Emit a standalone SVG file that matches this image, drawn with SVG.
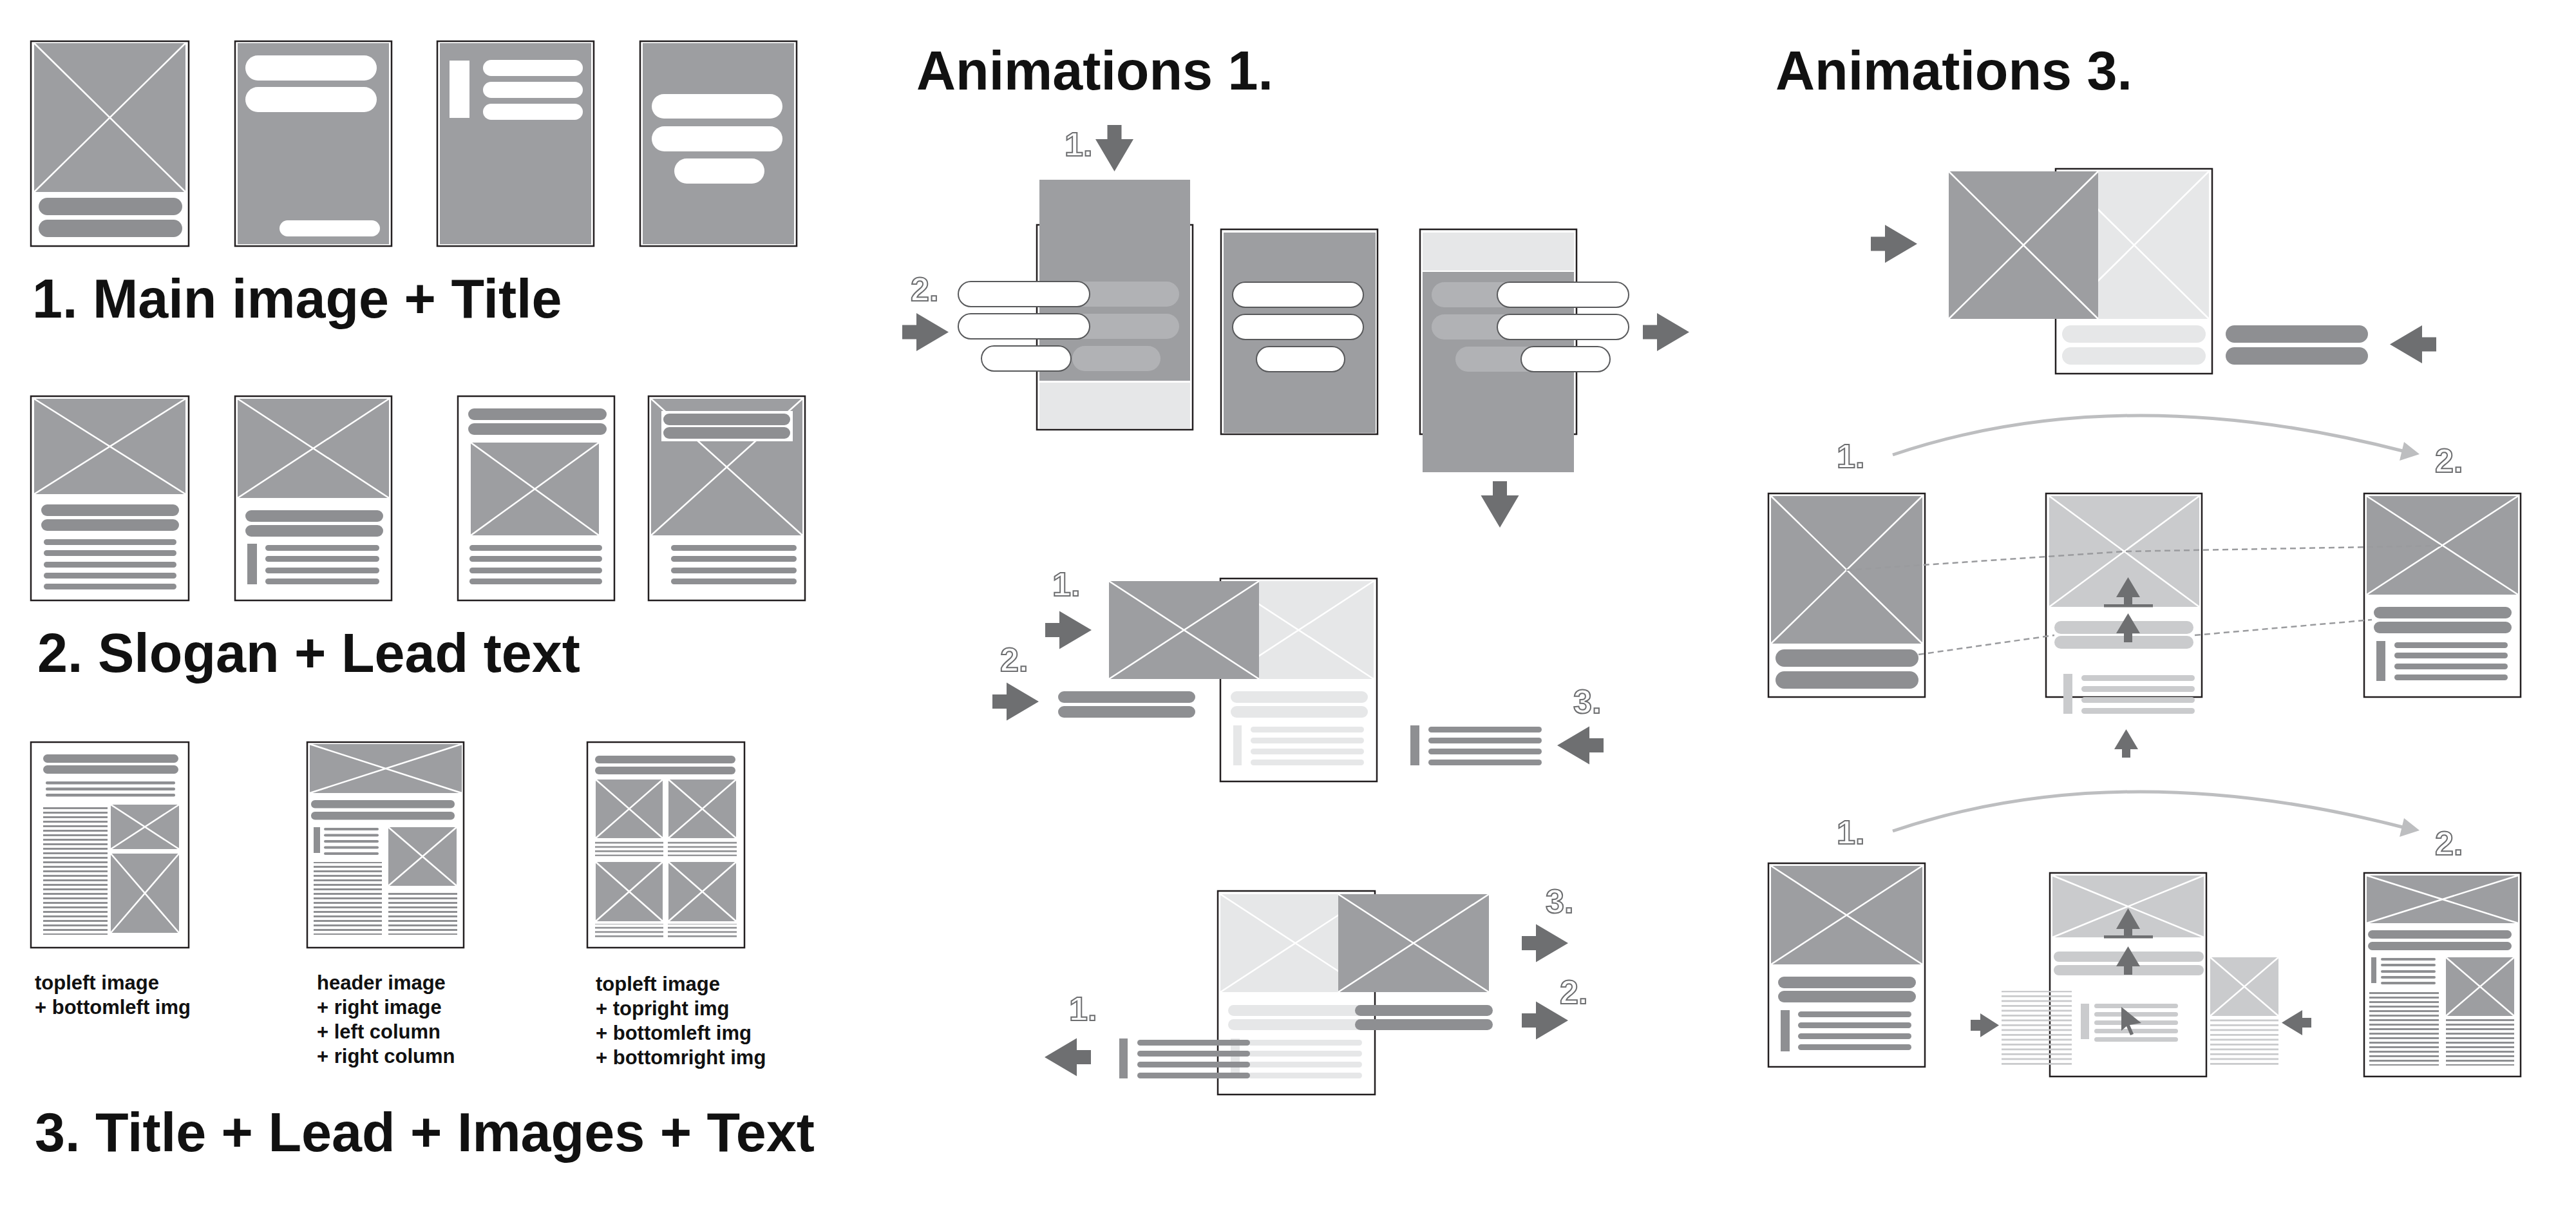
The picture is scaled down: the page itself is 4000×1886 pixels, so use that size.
<svg xmlns="http://www.w3.org/2000/svg" width="4000" height="1886" viewBox="0 0 4000 1886">
<style>
.fr{fill:#fff;stroke:#231f20;stroke-width:2.5}
.im{fill:#9d9ea1}
.iml{fill:#e6e7e8}
.imm{fill:#cacbcd}
.xx{stroke:#fff;stroke-width:2.5;fill:none}
.pd{fill:#8e8f92}
.pw{fill:#fff}
.po{fill:#fff;stroke:#58595b;stroke-width:2}
.pg{fill:#b1b2b5}
.pl{fill:#e6e7e8}
.pm{fill:#cacbcd}
.ar{fill:#6e6f71}
.ttl{font-family:"Liberation Sans",Arial,sans-serif;font-weight:700;font-size:84.5px;fill:#111}
.cap{font-family:"Liberation Sans",Arial,sans-serif;font-weight:700;font-size:31px;fill:#111}
.num{font-family:"Liberation Sans",Arial,sans-serif;font-weight:700;font-size:52px;fill:#fff;stroke:#6d6e70;stroke-width:2}
.cv{fill:none;stroke:#bdbec0;stroke-width:5}
.cvh{fill:#bdbec0}
.dsh{fill:none;stroke:#9a9b9e;stroke-width:2.5;stroke-dasharray:9 6}
</style>
<defs>
<pattern id="t7" width="8" height="7" patternUnits="userSpaceOnUse"><rect width="8" height="3" fill="#8e8f92"/></pattern>
<pattern id="t6" width="8" height="6.6" patternUnits="userSpaceOnUse"><rect width="8" height="2.6" fill="#8e8f92"/></pattern>
<pattern id="t7g" width="8" height="7.5" patternUnits="userSpaceOnUse"><rect width="8" height="2.8" fill="#cacbcd"/></pattern>
</defs>
<rect width="4000" height="1886" fill="#fff"/>

<!-- Section 1 -->
<g id="s1-box1">
<rect class="fr" x="48" y="64" width="245" height="318"/>
<rect class="im" x="53" y="67" width="235" height="231"/>
<path class="xx" d="M53 67L288 298M288 67L53 298"/>
<rect class="pd" x="60" y="307" width="223" height="27" rx="13.5"/>
<rect class="pd" x="60" y="341" width="223" height="27" rx="13.5"/>
</g>
<g id="s1-box2">
<rect class="fr" x="365" y="64" width="243" height="318"/>
<rect class="im" x="369" y="67" width="235" height="312"/>
<rect class="pw" x="381" y="86" width="204" height="39" rx="19.5"/>
<rect class="pw" x="381" y="135" width="204" height="39" rx="19.5"/>
<rect class="pw" x="434" y="342" width="156" height="25" rx="12.5"/>
</g>
<g id="s1-box3">
<rect class="fr" x="679" y="64" width="243" height="318"/>
<rect class="im" x="683" y="67" width="235" height="312"/>
<rect class="pw" x="698" y="94" width="31" height="89"/>
<rect class="pw" x="750" y="93" width="155" height="25" rx="12.5"/>
<rect class="pw" x="750" y="127" width="155" height="25" rx="12.5"/>
<rect class="pw" x="750" y="161" width="155" height="25" rx="12.5"/>
</g>
<g id="s1-box4">
<rect class="fr" x="994" y="64" width="243" height="318"/>
<rect class="im" x="998" y="67" width="235" height="312"/>
<rect class="pw" x="1012" y="146" width="203" height="38" rx="19"/>
<rect class="pw" x="1012" y="196" width="203" height="39" rx="19.5"/>
<rect class="pw" x="1047" y="246" width="140" height="39" rx="19.5"/>
</g>
<text id="title1" class="ttl" x="50" y="493">1. Main image + Title</text>

<!-- Section 2 -->
<g id="s2-box1">
<rect class="fr" x="48" y="615" width="245" height="317"/>
<rect class="im" x="53" y="619" width="235" height="148"/>
<path class="xx" d="M53 619L288 767M288 619L53 767"/>
<rect class="pd" x="64" y="783" width="214" height="18" rx="9"/>
<rect class="pd" x="64" y="806" width="214" height="18" rx="9"/>
<rect class="pd" x="68" y="837" width="206" height="9" rx="4.5"/>
<rect class="pd" x="68" y="854" width="206" height="9" rx="4.5"/>
<rect class="pd" x="68" y="872" width="206" height="9" rx="4.5"/>
<rect class="pd" x="68" y="889" width="206" height="9" rx="4.5"/>
<rect class="pd" x="68" y="906" width="206" height="9" rx="4.5"/>
</g>
<g id="s2-box2">
<rect class="fr" x="365" y="615" width="243" height="317"/>
<rect class="im" x="369" y="619" width="235" height="154"/>
<path class="xx" d="M369 619L604 773M604 619L369 773"/>
<rect class="pd" x="381" y="792" width="214" height="18" rx="9"/>
<rect class="pd" x="381" y="815" width="214" height="18" rx="9"/>
<rect class="pd" x="384" y="844" width="15" height="63"/>
<rect class="pd" x="412" y="846" width="177" height="9" rx="4.5"/>
<rect class="pd" x="412" y="863" width="177" height="9" rx="4.5"/>
<rect class="pd" x="412" y="881" width="177" height="9" rx="4.5"/>
<rect class="pd" x="412" y="898" width="177" height="9" rx="4.5"/>
</g>
<g id="s2-box3">
<rect class="fr" x="711" y="615" width="243" height="317"/>
<rect class="pd" x="727" y="634" width="215" height="18" rx="9"/>
<rect class="pd" x="727" y="657" width="215" height="18" rx="9"/>
<rect class="im" x="731" y="687" width="199" height="144"/>
<path class="xx" d="M731 687L930 831M930 687L731 831"/>
<rect class="pd" x="729" y="846" width="206" height="9" rx="4.5"/>
<rect class="pd" x="729" y="863" width="206" height="9" rx="4.5"/>
<rect class="pd" x="729" y="881" width="206" height="9" rx="4.5"/>
<rect class="pd" x="729" y="898" width="206" height="9" rx="4.5"/>
</g>
<g id="s2-box4">
<rect class="fr" x="1007" y="615" width="243" height="317"/>
<rect class="im" x="1011" y="619" width="235" height="212"/>
<path class="xx" d="M1011 619L1246 831M1246 619L1011 831"/>
<rect fill="#fff" x="1027" y="638" width="204" height="47"/>
<rect class="pd" x="1030" y="642" width="197" height="18" rx="9"/>
<rect class="pd" x="1030" y="663" width="197" height="18" rx="9"/>
<rect class="pd" x="1042" y="846" width="195" height="9" rx="4.5"/>
<rect class="pd" x="1042" y="863" width="195" height="9" rx="4.5"/>
<rect class="pd" x="1042" y="881" width="195" height="9" rx="4.5"/>
<rect class="pd" x="1042" y="898" width="195" height="9" rx="4.5"/>
</g>
<text id="title2" class="ttl" x="58" y="1043">2. Slogan + Lead text</text>

<!-- Section 3 -->
<g id="s3-box1">
<rect class="fr" x="48" y="1152" width="245" height="319"/>
<rect class="pd" x="67" y="1171" width="210" height="13" rx="6.5"/>
<rect class="pd" x="67" y="1188" width="210" height="13" rx="6.5"/>
<rect class="pd" x="71" y="1213" width="201" height="4.5" rx="2"/>
<rect class="pd" x="71" y="1222.5" width="201" height="4.5" rx="2"/>
<rect class="pd" x="71" y="1232" width="201" height="4.5" rx="2"/>
<rect fill="url(#t7)" x="67" y="1249" width="100" height="202"/>
<rect class="im" x="172" y="1249" width="106" height="69"/>
<path class="xx" d="M172 1249L278 1318M278 1249L172 1318"/>
<rect class="im" x="172" y="1325" width="106" height="123"/>
<path class="xx" d="M172 1325L278 1448M278 1325L172 1448"/>
</g>
<g id="s3-box2">
<rect class="fr" x="477" y="1152" width="243" height="319"/>
<rect class="im" x="481" y="1155" width="236" height="76"/>
<path class="xx" d="M481 1155L717 1231M717 1155L481 1231"/>
<rect class="pd" x="483" y="1242" width="223" height="12.5" rx="6"/>
<rect class="pd" x="483" y="1260" width="223" height="12.5" rx="6"/>
<rect class="pd" x="487" y="1284" width="10" height="40"/>
<rect class="pd" x="503" y="1285" width="85" height="4" rx="2"/>
<rect class="pd" x="503" y="1294.5" width="85" height="4" rx="2"/>
<rect class="pd" x="503" y="1304" width="85" height="4" rx="2"/>
<rect class="pd" x="503" y="1313.5" width="85" height="4" rx="2"/>
<rect class="pd" x="503" y="1323" width="85" height="4" rx="2"/>
<rect class="im" x="603" y="1284" width="106" height="91"/>
<path class="xx" d="M603 1284L709 1375M709 1284L603 1375"/>
<rect fill="url(#t7)" x="487" y="1338" width="106" height="113"/>
<rect fill="url(#t7)" x="603" y="1382" width="107" height="69"/>
</g>
<g id="s3-box3">
<rect class="fr" x="912" y="1152" width="244" height="319"/>
<rect class="pd" x="924" y="1173" width="218" height="12" rx="6"/>
<rect class="pd" x="924" y="1190" width="218" height="12" rx="6"/>
<rect class="im" x="925" y="1210" width="104" height="91"/>
<path class="xx" d="M925 1210L1029 1301M1029 1210L925 1301"/>
<rect class="im" x="1038" y="1210" width="105" height="91"/>
<path class="xx" d="M1038 1210L1143 1301M1143 1210L1038 1301"/>
<rect fill="url(#t6)" x="924" y="1305" width="106" height="24"/>
<rect fill="url(#t6)" x="1037" y="1305" width="107" height="24"/>
<rect class="im" x="925" y="1338" width="104" height="92"/>
<path class="xx" d="M925 1338L1029 1430M1029 1338L925 1430"/>
<rect class="im" x="1038" y="1338" width="105" height="92"/>
<path class="xx" d="M1038 1338L1143 1430M1143 1338L1038 1430"/>
<rect fill="url(#t6)" x="924" y="1434" width="106" height="24"/>
<rect fill="url(#t6)" x="1037" y="1434" width="107" height="24"/>
</g>
<g id="s3-captions">
<text class="cap" x="54" y="1536">topleft image</text>
<text class="cap" x="54" y="1574">+ bottomleft img</text>
<text class="cap" x="492" y="1536">header image</text>
<text class="cap" x="492" y="1574">+ right image</text>
<text class="cap" x="492" y="1612">+ left column</text>
<text class="cap" x="492" y="1650">+ right column</text>
<text class="cap" x="925" y="1538">topleft image</text>
<text class="cap" x="925" y="1576">+ topright img</text>
<text class="cap" x="925" y="1614">+ bottomleft img</text>
<text class="cap" x="925" y="1652">+ bottomright img</text>
</g>
<text id="title3" class="ttl" x="54" y="1787">3. Title + Lead + Images + Text</text>

<!-- Animations 1 -->
<text id="anim1-title" class="ttl" x="1423" y="139">Animations 1.</text>
<g id="a1-panelA">
<rect class="fr" x="1610" y="349" width="242" height="318"/>
<rect class="im" x="1614" y="279" width="234" height="312"/>
<rect class="iml" x="1614" y="594" width="234" height="71"/>
<rect class="pg" x="1628" y="437" width="203" height="39" rx="19.5"/>
<rect class="pg" x="1628" y="487" width="203" height="39" rx="19.5"/>
<rect class="pg" x="1665" y="537" width="137" height="39" rx="19.5"/>
<rect class="po" x="1488" y="437" width="204" height="39" rx="19.5"/>
<rect class="po" x="1488" y="487" width="204" height="39" rx="19.5"/>
<rect class="po" x="1524" y="537" width="139" height="39" rx="19.5"/>
</g>
<g id="a1-panelB">
<rect class="fr" x="1896" y="356" width="243" height="318"/>
<rect class="im" x="1900" y="361" width="236" height="311"/>
<rect class="po" x="1914" y="438" width="203" height="39" rx="19.5"/>
<rect class="po" x="1914" y="488" width="203" height="39" rx="19.5"/>
<rect class="po" x="1951" y="538" width="137" height="39" rx="19.5"/>
</g>
<g id="a1-panelC">
<rect class="fr" x="2205" y="356" width="243" height="318"/>
<rect class="iml" x="2209" y="361" width="235" height="59"/>
<rect class="im" x="2209" y="422" width="235" height="311"/>
<rect class="pg" x="2223" y="438" width="203" height="39" rx="19.5"/>
<rect class="pg" x="2223" y="488" width="203" height="39" rx="19.5"/>
<rect class="pg" x="2260" y="538" width="137" height="39" rx="19.5"/>
<rect class="po" x="2325" y="438" width="204" height="39" rx="19.5"/>
<rect class="po" x="2325" y="488" width="204" height="39" rx="19.5"/>
<rect class="po" x="2362" y="538" width="138" height="39" rx="19.5"/>
</g>
<g id="a1-mid">
<rect class="fr" x="1895" y="898" width="243" height="315"/>
<rect class="iml" x="1900" y="902" width="233" height="152"/>
<path class="xx" d="M1900 902L2133 1054M2133 902L1900 1054"/>
<rect class="im" x="1722" y="902" width="233" height="152"/>
<path class="xx" d="M1722 902L1955 1054M1955 902L1722 1054"/>
<rect class="pd" x="1643" y="1073" width="213" height="18" rx="9"/>
<rect class="pd" x="1643" y="1096" width="213" height="18" rx="9"/>
<rect class="pl" x="1911" y="1073" width="213" height="18" rx="9"/>
<rect class="pl" x="1911" y="1096" width="213" height="18" rx="9"/>
<rect class="pl" x="1915" y="1126" width="13" height="62"/>
<rect class="pl" x="1942" y="1128" width="176" height="9" rx="4.5"/>
<rect class="pl" x="1942" y="1145" width="176" height="9" rx="4.5"/>
<rect class="pl" x="1942" y="1162" width="176" height="9" rx="4.5"/>
<rect class="pl" x="1942" y="1179" width="176" height="9" rx="4.5"/>
<rect class="pd" x="2190" y="1126" width="14" height="62"/>
<rect class="pd" x="2218" y="1128" width="176" height="9" rx="4.5"/>
<rect class="pd" x="2218" y="1145" width="176" height="9" rx="4.5"/>
<rect class="pd" x="2218" y="1162" width="176" height="9" rx="4.5"/>
<rect class="pd" x="2218" y="1179" width="176" height="9" rx="4.5"/>
</g>
<g id="a1-bottom">
<rect class="fr" x="1891" y="1383" width="244" height="316"/>
<rect class="iml" x="1895" y="1388" width="233" height="152"/>
<path class="xx" d="M1895 1388L2128 1540M2128 1388L1895 1540"/>
<rect class="im" x="2078" y="1388" width="234" height="152"/>
<path class="xx" d="M2078 1388L2312 1540M2312 1388L2078 1540"/>
<rect class="pl" x="1907" y="1560" width="213" height="17" rx="8.5"/>
<rect class="pl" x="1907" y="1582" width="213" height="17" rx="8.5"/>
<rect class="pd" x="2104" y="1560" width="214" height="17" rx="8.5"/>
<rect class="pd" x="2104" y="1582" width="214" height="17" rx="8.5"/>
<rect class="pl" x="1911" y="1612" width="14" height="61"/>
<rect class="pl" x="1938" y="1614" width="177" height="9" rx="4.5"/>
<rect class="pl" x="1938" y="1631" width="177" height="9" rx="4.5"/>
<rect class="pl" x="1938" y="1648" width="177" height="9" rx="4.5"/>
<rect class="pl" x="1938" y="1665" width="177" height="9" rx="4.5"/>
<rect class="pd" x="1738" y="1612" width="13" height="62"/>
<rect class="pd" x="1766" y="1614" width="175" height="9" rx="4.5"/>
<rect class="pd" x="1766" y="1631" width="175" height="9" rx="4.5"/>
<rect class="pd" x="1766" y="1648" width="175" height="9" rx="4.5"/>
<rect class="pd" x="1766" y="1665" width="175" height="9" rx="4.5"/>
</g>

<!-- Animations 3 -->
<text id="anim3-title" class="ttl" x="2757" y="139">Animations 3.</text>
<g id="a3-top">
<rect class="fr" x="3192" y="262" width="243" height="318"/>
<rect class="iml" x="3198" y="266" width="232" height="229"/>
<path class="xx" d="M3198 266L3430 495M3430 266L3198 495"/>
<rect class="im" x="3026" y="266" width="232" height="229"/>
<path class="xx" d="M3026 266L3258 495M3258 266L3026 495"/>
<rect class="pl" x="3202" y="505" width="223" height="27" rx="13.5"/>
<rect class="pl" x="3202" y="539" width="223" height="27" rx="13.5"/>
<rect class="pd" x="3456" y="505" width="221" height="27" rx="13.5"/>
<rect class="pd" x="3456" y="539" width="221" height="27" rx="13.5"/>
</g>
<g id="a3-mid-left">
<rect class="fr" x="2746" y="766" width="243" height="316"/>
<rect class="im" x="2750" y="770" width="235" height="229"/>
<path class="xx" d="M2750 770L2985 999M2985 770L2750 999"/>
<rect class="pd" x="2757" y="1008" width="222" height="27" rx="13.5"/>
<rect class="pd" x="2757" y="1042" width="222" height="27" rx="13.5"/>
</g>
<g id="a3-mid-center">
<rect class="fr" x="3177" y="766" width="242" height="316"/>
<rect class="imm" x="3182" y="770" width="233" height="172"/>
<path class="xx" d="M3182 770L3415 942M3415 770L3182 942"/>
<rect class="pm" x="3190" y="964" width="216" height="20" rx="10"/>
<rect class="pm" x="3190" y="987" width="216" height="20" rx="10"/>
<rect class="pm" x="3204" y="1046" width="14" height="62"/>
<rect class="pm" x="3232" y="1048" width="176" height="9" rx="4.5"/>
<rect class="pm" x="3232" y="1065" width="176" height="9" rx="4.5"/>
<rect class="pm" x="3232" y="1082" width="176" height="9" rx="4.5"/>
<rect class="pm" x="3232" y="1099" width="176" height="9" rx="4.5"/>
<polygon class="ar" points="3304.5,896 3323,927 3311,927 3311,938 3343,938 3343,942.5 3267,942.5 3267,938 3298,938 3298,927 3286,927"/>
<polygon class="ar" points="3304.5,952 3323,983 3311,983 3311,997 3298,997 3298,983 3286,983"/>
</g>
<g id="a3-mid-right">
<rect class="fr" x="3671" y="766" width="243" height="316"/>
<rect class="im" x="3675" y="770" width="235" height="153"/>
<path class="xx" d="M3675 770L3910 923M3910 770L3675 923"/>
<rect class="pd" x="3686" y="942" width="214" height="18" rx="9"/>
<rect class="pd" x="3686" y="965" width="214" height="18" rx="9"/>
<rect class="pd" x="3690" y="995" width="14" height="62"/>
<rect class="pd" x="3718" y="997" width="176" height="9" rx="4.5"/>
<rect class="pd" x="3718" y="1013" width="176" height="9" rx="4.5"/>
<rect class="pd" x="3718" y="1030" width="176" height="9" rx="4.5"/>
<rect class="pd" x="3718" y="1047" width="176" height="9" rx="4.5"/>
</g>
<g id="a3-bot-left">
<rect class="fr" x="2746" y="1340" width="243" height="316"/>
<rect class="im" x="2750" y="1344" width="235" height="153"/>
<path class="xx" d="M2750 1344L2985 1497M2985 1344L2750 1497"/>
<rect class="pd" x="2761" y="1516" width="214" height="18" rx="9"/>
<rect class="pd" x="2761" y="1538" width="214" height="18" rx="9"/>
<rect class="pd" x="2765" y="1568" width="14" height="64"/>
<rect class="pd" x="2792" y="1570" width="176" height="9" rx="4.5"/>
<rect class="pd" x="2792" y="1587" width="176" height="9" rx="4.5"/>
<rect class="pd" x="2792" y="1604" width="176" height="9" rx="4.5"/>
<rect class="pd" x="2792" y="1621" width="176" height="9" rx="4.5"/>
</g>
<g id="a3-bot-center">
<rect class="fr" x="3183" y="1355" width="243" height="316"/>
<rect class="imm" x="3187" y="1359" width="235" height="96"/>
<path class="xx" d="M3187 1359L3422 1455M3422 1359L3187 1455"/>
<rect class="pm" x="3189" y="1477" width="233" height="16" rx="8"/>
<rect class="pm" x="3189" y="1498" width="233" height="16" rx="8"/>
<rect class="pm" x="3231" y="1558" width="13" height="55"/>
<rect class="pm" x="3252" y="1558" width="130" height="7" rx="3.5"/>
<rect class="pm" x="3252" y="1571" width="130" height="7" rx="3.5"/>
<rect class="pm" x="3252" y="1584" width="130" height="7" rx="3.5"/>
<rect class="pm" x="3252" y="1597" width="130" height="7" rx="3.5"/>
<rect class="pm" x="3252" y="1610" width="130" height="7" rx="3.5"/>
<rect fill="url(#t7g)" x="3108" y="1538" width="109" height="116"/>
<rect class="imm" x="3432" y="1486" width="106" height="91"/>
<path class="xx" d="M3432 1486L3538 1577M3538 1486L3432 1577"/>
<rect fill="url(#t7g)" x="3432" y="1582" width="106" height="72"/>
<polygon class="ar" points="3304.5,1410 3323,1442 3311,1442 3311,1452 3343,1452 3343,1456.5 3267,1456.5 3267,1452 3298,1452 3298,1442 3286,1442"/>
<polygon class="ar" points="3304.5,1469 3323,1500 3311,1500 3311,1513 3298,1513 3298,1500 3286,1500"/>
<polygon class="ar" points="3294,1563 3325,1588 3307,1591 3313,1605 3308,1607 3302,1593 3294,1600"/>
</g>
<g id="a3-bot-right">
<rect class="fr" x="3671" y="1355" width="243" height="316"/>
<rect class="im" x="3675" y="1359" width="235" height="74"/>
<path class="xx" d="M3675 1359L3910 1433M3910 1359L3675 1433"/>
<rect class="pd" x="3677" y="1444" width="223" height="13" rx="6.5"/>
<rect class="pd" x="3677" y="1462" width="223" height="13" rx="6.5"/>
<rect class="pd" x="3682" y="1486" width="8" height="40"/>
<rect class="pd" x="3697" y="1487" width="85" height="4" rx="2"/>
<rect class="pd" x="3697" y="1496" width="85" height="4" rx="2"/>
<rect class="pd" x="3697" y="1506" width="85" height="4" rx="2"/>
<rect class="pd" x="3697" y="1515" width="85" height="4" rx="2"/>
<rect class="pd" x="3697" y="1524" width="85" height="4" rx="2"/>
<rect class="im" x="3798" y="1486" width="106" height="91"/>
<path class="xx" d="M3798 1486L3904 1577M3904 1486L3798 1577"/>
<rect fill="url(#t7)" x="3679" y="1538" width="108" height="116"/>
<rect fill="url(#t7)" x="3798" y="1582" width="106" height="72"/>
</g>

<!-- Connectors -->
<g id="connectors">
<polygon class="ar" points="1719.5,194 1741.5,194 1741.5,216 1760,216 1730.5,266 1701,216 1719.5,216"/>
<polygon class="ar" points="1401,504.5 1423,504.5 1423,486 1473,515.5 1423,545 1423,526.5 1401,526.5"/>
<polygon class="ar" points="2551,504.5 2573,504.5 2573,486 2623,515.5 2573,545 2573,526.5 2551,526.5"/>
<polygon class="ar" points="2318,747 2340,747 2340,769 2358.5,769 2329,819 2299.5,769 2318,769"/>
<polygon class="ar" points="1623,967 1645,967 1645,948.5 1695,978 1645,1007.5 1645,989 1623,989"/>
<polygon class="ar" points="1541,1078 1563,1078 1563,1059.5 1613,1089 1563,1118.5 1563,1100 1541,1100"/>
<polygon class="ar" points="2418,1157 2468,1127.5 2468,1146 2490,1146 2490,1168 2468,1168 2468,1186.5"/>
<polygon class="ar" points="2363,1453 2385,1453 2385,1434.5 2435,1464 2385,1493.5 2385,1475 2363,1475"/>
<polygon class="ar" points="2363,1573 2385,1573 2385,1554.5 2435,1584 2385,1613.5 2385,1595 2363,1595"/>
<polygon class="ar" points="1622,1641 1672,1611.5 1672,1630 1694,1630 1694,1652 1672,1652 1672,1670.5"/>
<polygon class="ar" points="2905,367.5 2927,367.5 2927,349 2977,378.5 2927,408 2927,389.5 2905,389.5"/>
<polygon class="ar" points="3711,534.5 3761,505 3761,523.5 3783,523.5 3783,545.5 3761,545.5 3761,564"/>
<polygon class="ar" points="3301.5,1132 3320,1163 3308,1163 3308,1176 3295,1176 3295,1163 3283,1163"/>
<polygon class="ar" points="3060,1583 3075,1583 3075,1573 3104,1591.5 3075,1610 3075,1600 3060,1600"/>
<polygon class="ar" points="3543,1587.5 3575,1568 3575,1580 3589,1580 3589,1595 3575,1595 3575,1607"/>
<path class="cv" d="M2939 706Q3292 587 3731 700"/>
<polygon class="cvh" points="3733,686 3757,705 3726,715"/>
<path class="cv" d="M2939 1290Q3292 1171 3731 1284"/>
<polygon class="cvh" points="3733,1270 3757,1289 3726,1299"/>
<polyline class="dsh" points="2867,885 3297,856 3792,847"/>
<path class="dsh" d="M2979 1016L3190 986M3408 986L3683 962"/>
</g>

<g id="labels">
<text class="num" x="1653" y="242">1.</text>
<text class="num" x="1414" y="467">2.</text>
<text class="num" x="1634" y="925">1.</text>
<text class="num" x="1553" y="1042">2.</text>
<text class="num" x="2443" y="1107">3.</text>
<text class="num" x="2400" y="1417">3.</text>
<text class="num" x="2422" y="1558">2.</text>
<text class="num" x="1660" y="1584">1.</text>
<text class="num" x="2852" y="726">1.</text>
<text class="num" x="3781" y="733">2.</text>
<text class="num" x="2852" y="1310">1.</text>
<text class="num" x="3781" y="1327">2.</text>
</g>
</svg>
